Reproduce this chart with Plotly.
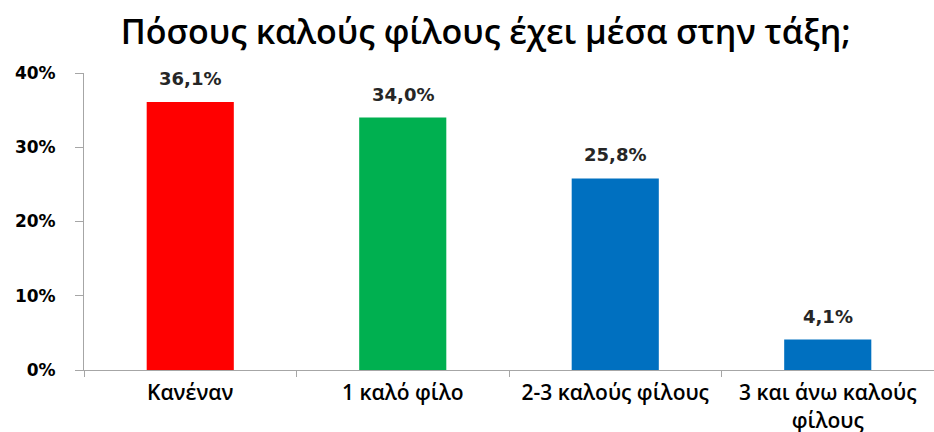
import plotly.graph_objects as go

# Answers and their shares (%)
categories = ["Κανέναν", "1 καλό φίλο", "2-3 καλούς φίλους", "3 και άνω καλούς<br>φίλους"]
shares = [36.1, 34.0, 25.8, 4.1]
bar_colors = ["#ff0000", "#00b050", "#0070c0", "#0070c0"]
y_ticks = [0, 10, 20, 30, 40]
y_tick_labels = ["0%", "10%", "20%", "30%", "40%"]

labels = [f"{v:.1f}%".replace(".", ",") for v in shares]

fig = go.Figure(
    go.Bar(
        x=categories,
        y=shares,
        marker=dict(color=bar_colors, line=dict(width=0)),
        hoverinfo="skip",
    )
)

# Value labels sitting a little above each bar
for cat, v, lab in zip(categories, shares, labels):
    fig.add_annotation(
        x=cat,
        y=v,
        text=lab,
        showarrow=False,
        yanchor="bottom",
        yshift=11,
        font=dict(family="DejaVu Sans", size=18, color="#262626", weight="bold"),
    )

fig.update_layout(
    width=934,
    height=432,
    margin=dict(l=84, r=0, t=73, b=62),
    paper_bgcolor="white",
    plot_bgcolor="white",
    showlegend=False,
    bargap=0.59,
    title=dict(
        text="Πόσους καλούς φίλους έχει μέσα στην τάξη;",
        x=0.52,
        xanchor="center",
        y=0.925,
        yanchor="middle",
        font=dict(family="Open Sans", size=34, color="#000000", weight=600),
    ),
)

fig.update_xaxes(
    automargin=False,
    tickangle=0,
    showline=True,
    linecolor="#a6a6a6",
    linewidth=1,
    ticks="outside",
    tickson="boundaries",
    ticklen=6,
    tickcolor="#a6a6a6",
    ticklabelstandoff=4,
    tickfont=dict(family="Open Sans", size=21, color="#000000", weight=600),
    showgrid=False,
    fixedrange=True,
)

fig.update_yaxes(
    automargin=False,
    range=[0, 40],
    tickvals=y_ticks,
    ticktext=y_tick_labels,
    showline=True,
    linecolor="#a6a6a6",
    linewidth=1,
    ticks="outside",
    ticklen=8,
    tickcolor="#a6a6a6",
    ticklabelstandoff=16,
    tickfont=dict(family="DejaVu Sans", size=17, color="#000000", weight="bold"),
    showgrid=False,
    zeroline=False,
    fixedrange=True,
)

fig.write_html("out.html")
